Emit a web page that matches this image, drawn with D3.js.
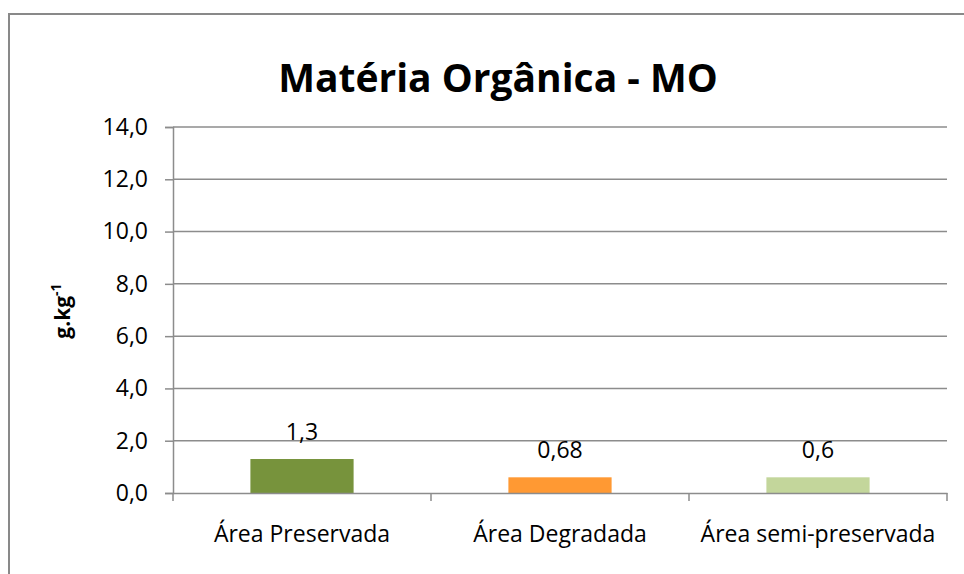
<!DOCTYPE html>
<html>

<head>
    <meta charset="utf-8">
    <title>Matéria Orgânica - MO</title>
    <script src="https://cdn.jsdelivr.net/npm/d3@7"></script>
    <style>
        body { margin: 0; background: #fff; }
    </style>
</head>

<body>
    <svg width="964" height="574" id="mainsvg"></svg>
    <script>
        const categories = ['Área Preservada', 'Área Degradada', 'Área semi-preservada'];
        const values = [1.3, 0.6, 0.6];
        const valueLabels = ['1,3', '0,68', '0,6'];
        const colors = ['#77933C', '#FF9933', '#C3D69B'];
        const yTicks = [0, 2, 4, 6, 8, 10, 12, 14];

        const svg = d3.select('svg');
        const font = "'Open Sans', 'Noto Sans', sans-serif";
        const margin = { left: 173, right: 17, top: 127, bottom: 81 };
        const width = +svg.attr('width');
        const height = +svg.attr('height');

        // chart frame (right and bottom edges fall outside the picture)
        svg.append('rect')
            .attr('x', 9).attr('y', 14)
            .attr('width', 1000).attr('height', 600)
            .attr('fill', 'none')
            .attr('stroke', '#898989')
            .attr('stroke-width', 2);

        const x = d3.scaleBand()
            .domain(categories)
            .range([margin.left, width - margin.right])
            .paddingInner(0.6)
            .paddingOuter(0.3);
        const y = d3.scaleLinear()
            .domain([0, 14])
            .range([height - margin.bottom, margin.top]);

        // gridlines
        svg.append('g')
            .selectAll('line').data(yTicks.slice(1)).join('line')
            .attr('x1', margin.left).attr('x2', width - margin.right)
            .attr('y1', d => y(d)).attr('y2', d => y(d))
            .attr('stroke', '#8c8c8c')
            .attr('stroke-width', 1.5);

        // bars
        svg.append('g')
            .selectAll('rect').data(values).join('rect')
            .attr('x', (d, i) => x(categories[i]))
            .attr('y', d => y(d))
            .attr('width', x.bandwidth())
            .attr('height', d => y(0) - y(d))
            .attr('fill', (d, i) => colors[i]);

        // value labels
        svg.append('g')
            .selectAll('text').data(values).join('text')
            .attr('x', (d, i) => x(categories[i]) + x.bandwidth() / 2)
            .attr('y', d => y(d) - 19)
            .attr('text-anchor', 'middle')
            .attr('font-family', font)
            .attr('font-size', 23)
            .attr('fill', '#000')
            .text((d, i) => valueLabels[i]);

        // y axis
        const yAxis = svg.append('g')
            .attr('transform', `translate(${margin.left},0)`)
            .call(d3.axisLeft(y).tickValues(yTicks).tickSize(8).tickPadding(17)
                .tickFormat(d => d3.format('.1f')(d).replace('.', ',')));
        yAxis.selectAll('text').attr('font-size', 23);
        // x axis
        const step = x.step();
        const xAxis = svg.append('g')
            .attr('transform', `translate(0,${y(0)})`)
            .call(d3.axisBottom(x).tickSize(0).tickPadding(33));
        xAxis.selectAll('.tickmark').data(d3.range(categories.length + 1)).join('line')
            .attr('class', 'tickmark')
            .attr('x1', d => margin.left + d * step).attr('x2', d => margin.left + d * step)
            .attr('y1', 0).attr('y2', 8);
        xAxis.selectAll('text').attr('font-size', 23);

        [yAxis, xAxis].forEach(g => {
            g.select('.domain').attr('stroke', '#8c8c8c').attr('stroke-width', 1.5);
            g.selectAll('line').attr('stroke', '#8c8c8c').attr('stroke-width', 1.5);
            g.selectAll('text').attr('font-family', font).attr('fill', '#000');
        });

        // title
        svg.append('text')
            .attr('x', 498).attr('y', 92)
            .attr('text-anchor', 'middle')
            .attr('font-family', font)
            .attr('font-weight', 'bold')
            .attr('font-size', 39)
            .text('Matéria Orgânica - MO');

        // y axis title
        const yt = svg.append('text')
            .attr('transform', 'translate(70,311) rotate(-90)')
            .attr('text-anchor', 'middle')
            .attr('font-family', font)
            .attr('font-weight', 'bold')
            .attr('font-size', 21);
        yt.append('tspan').text('g.kg');
        yt.append('tspan').attr('dy', -9).attr('font-size', 14).text('-1');
    </script>
</body>

</html>
